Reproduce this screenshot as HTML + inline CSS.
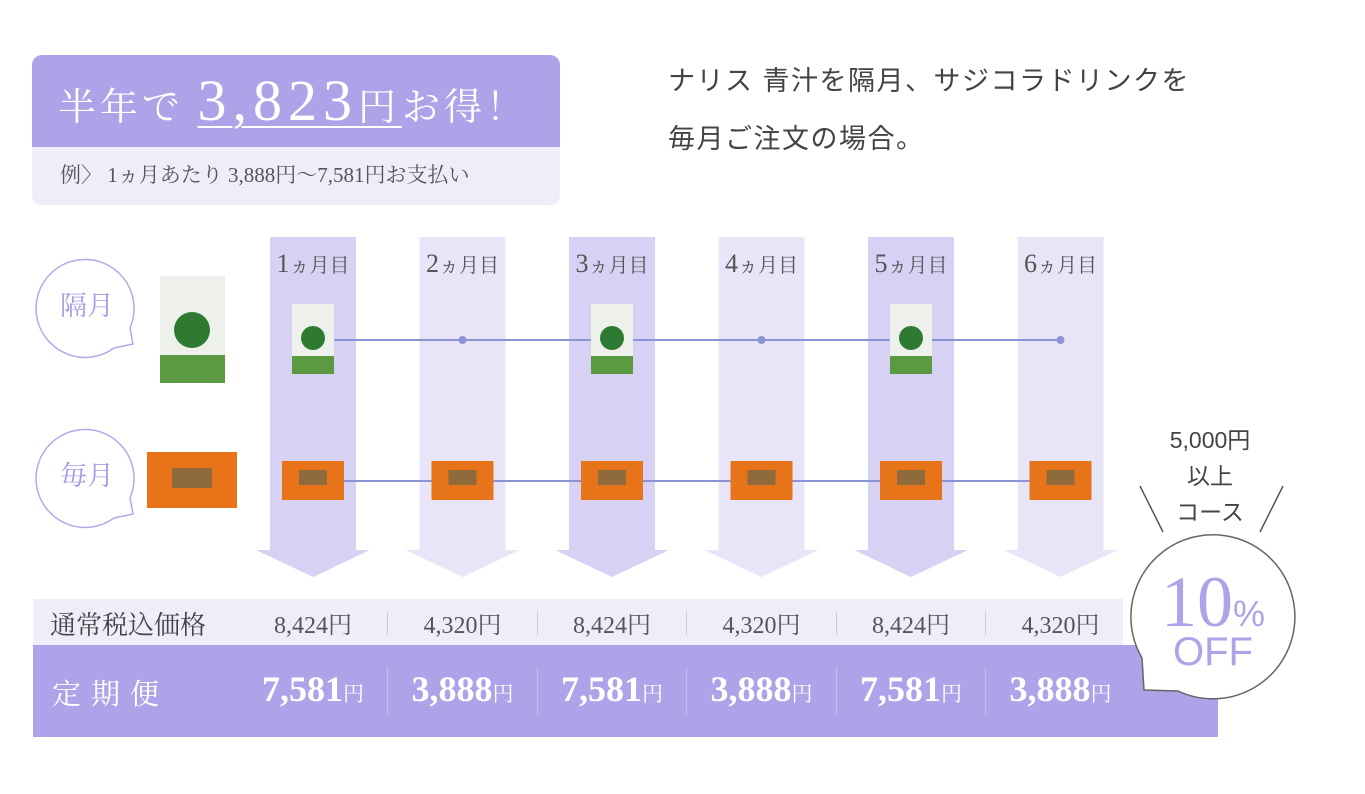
<!DOCTYPE html>
<html><head><meta charset="utf-8">
<style>
body{margin:0;width:1365px;height:794px;background:#fff;position:relative;overflow:hidden;font-family:"Liberation Sans","Noto Sans CJK JP",sans-serif;}
.a{position:absolute;}
.serif{font-family:"Liberation Serif","Noto Serif CJK SC",serif;}
</style></head><body>
<div class="a" style="left:32px;top:55px;width:528px;height:150px;border-radius:10px;overflow:hidden;background:#efedfa;">
 <div class="a" style="left:0;top:0;width:528px;height:92px;background:#ada3e8;"></div>
 <div class="a serif" style="left:26px;top:12px;color:#fff;font-size:38px;white-space:nowrap;letter-spacing:4px;">半年で <span style="font-size:58px;text-decoration:underline;text-decoration-thickness:2px;text-underline-offset:6px;letter-spacing:6px;">3,823<span style="font-size:38px">円</span></span>お得！</div>
 <div class="a serif" style="left:28px;top:104px;color:#555;font-size:21px;white-space:nowrap;">例〉 1ヵ月あたり 3,888円〜7,581円お支払い</div>
</div>
<div class="a" style="left:668px;top:52px;color:#444;font-size:27px;line-height:58px;letter-spacing:1.5px;white-space:nowrap;">ナリス 青汁を隔月、サジコラドリンクを<br>毎月ご注文の場合。</div>
<svg class="a" style="left:0;top:0" width="1365" height="794">
<g id="cols"></g>
<g id="lines"></g>
<path d="M114,348 A49,49 0 1 1 130,328 L133,344 Z" fill="#fff" stroke="#b3a9e8" stroke-width="1.5"/>
<path d="M114,518 A49,49 0 1 1 130,498 L133,514 Z" fill="#fff" stroke="#b3a9e8" stroke-width="1.5"/>
<text x="87" y="315" font-size="27" fill="#a79be6" text-anchor="middle" font-family="Liberation Serif,Noto Serif CJK SC,serif">隔月</text>
<text x="87" y="485" font-size="27" fill="#a79be6" text-anchor="middle" font-family="Liberation Serif,Noto Serif CJK SC,serif">毎月</text>
<g>
<rect x="160" y="276" width="65" height="107" fill="#eef0ec"/>
<circle cx="192" cy="330" r="18" fill="#2f7a33"/>
<rect x="160" y="355" width="65" height="28" fill="#5c9a42"/>
</g>
<g>
<rect x="147" y="452" width="90" height="56" fill="#e8741a"/>
<rect x="172" y="468" width="40" height="20" fill="#8f6a3a"/>
</g>
<line x1="1140" y1="486" x2="1163" y2="532" stroke="#555" stroke-width="1.5"/>
<line x1="1283" y1="486" x2="1260" y2="532" stroke="#555" stroke-width="1.5"/>
</svg>
<div class="a" style="left:1140px;top:422px;width:140px;text-align:center;color:#444;font-size:23px;line-height:36px;">5,000円<br>以上<br>コース</div>
<div class="a" style="left:33px;top:599px;width:1090px;height:46px;background:#efedfa;"></div>
<div class="a" style="left:33px;top:645px;width:1185px;height:92px;background:#ada3e8;"></div>
<div class="a serif" style="left:50px;top:605px;font-size:26px;color:#444;">通常税込価格</div>
<div class="a serif" style="left:52px;top:672px;font-size:29px;color:#fff;letter-spacing:10px;">定期便</div>
<div id="prices"></div>
<svg class="a" style="left:0;top:0" width="1365" height="794">
<path d="M1142,658 A82,82 0 1 1 1178,691 L1144,690 Z" fill="#fff" stroke="#666" stroke-width="1.5"/>
</svg>
<div class="a" style="left:1138px;top:566px;width:150px;text-align:center;color:#ada3e8;line-height:1;">
 <span class="serif" style="font-size:72px;">10</span><span style="font-size:36px;">%</span><br><span style="font-size:40px;position:relative;top:-6px;">OFF</span></div>
<script>
const months=["1ヵ月目","2ヵ月目","3ヵ月目","4ヵ月目","5ヵ月目","6ヵ月目"];
const regularPrices=["8,424","4,320","8,424","4,320","8,424","4,320"];
const subscriptionPrices=["7,581","3,888","7,581","3,888","7,581","3,888"];
const aojiruMonths=[1,0,1,0,1,0];
const colX=i=>313+i*149.5;
const NS="http://www.w3.org/2000/svg";
const cols=document.getElementById('cols');
function mk(tag,attrs,parent){const e=document.createElementNS(NS,tag);for(const k in attrs)e.setAttribute(k,attrs[k]);parent.appendChild(e);return e;}
months.forEach((m,i)=>{
 const x=colX(i),fill=i%2?"#e8e5f8":"#d7d2f4";
 const g=mk('g',{},cols);
 
 
 mk('path',{d:`M${x-43},237 H${x+43} V550 H${x+57} L${x},577 L${x-57},550 H${x-43} Z`,fill:fill},g);
 const t=mk('text',{x:x,y:272,'text-anchor':'middle','font-size':20,fill:'#555','font-family':'Liberation Serif,Noto Serif CJK SC,serif'},g);
 const d=mk('tspan',{'font-size':26},t);d.textContent=m.charAt(0);
 const r=mk('tspan',{},t);r.textContent=m.slice(1);
});
const lines=document.getElementById('lines');
mk('line',{x1:colX(0),y1:340,x2:colX(5),y2:340,stroke:'#8c93d4','stroke-width':2},lines);
mk('line',{x1:colX(0),y1:481,x2:colX(5),y2:481,stroke:'#8c93d4','stroke-width':2},lines);
months.forEach((m,i)=>{
 const x=colX(i);
 if(aojiruMonths[i]){
  const g=mk('g',{},lines);
  
  
  mk('rect',{x:x-21,y:304,width:42,height:70,fill:'#eef0ec'},g);
  mk('circle',{cx:x,cy:338,r:12,fill:'#2f7a33'},g);
  mk('rect',{x:x-21,y:356,width:42,height:18,fill:'#5c9a42'},g);
 } else {
  const c=mk('circle',{cx:x,cy:340,r:4,fill:'#8c93d4'},lines);
  
  
 }
 const g2=mk('g',{},lines);
 
 
 mk('rect',{x:x-31,y:461,width:62,height:39,fill:'#e8741a'},g2);
 mk('rect',{x:x-14,y:470,width:28,height:15,fill:'#8f6a3a'},g2);
});
const pr=document.getElementById('prices');
months.forEach((m,i)=>{
 const x=colX(i);
 const a=document.createElement('div');
 a.className='a serif';
 
 
 a.style.cssText=`left:${x-70}px;top:605px;width:140px;text-align:center;font-size:24px;color:#555;`;
 a.textContent=regularPrices[i]+'円';
 pr.appendChild(a);
 const b=document.createElement('div');
 b.className='a serif';
 
 
 b.style.cssText=`left:${x-70}px;top:668px;width:140px;text-align:center;font-size:36px;color:#fff;font-weight:bold;`;
 b.innerHTML=subscriptionPrices[i]+'<span style="font-size:21px;font-weight:normal">円</span>';
 pr.appendChild(b);
 if(i<5){
  const s=document.createElement('div');
  s.className='a';
  
  
  s.style.cssText=`left:${x+74}px;top:611px;width:1px;height:24px;background:#ccc;`;
  pr.appendChild(s);
  const s2=document.createElement('div');
  s2.className='a';
  
  
  s2.style.cssText=`left:${x+74}px;top:667px;width:1px;height:48px;background:#c5bdf0;`;
  pr.appendChild(s2);
 }
});
</script>
</body></html>
